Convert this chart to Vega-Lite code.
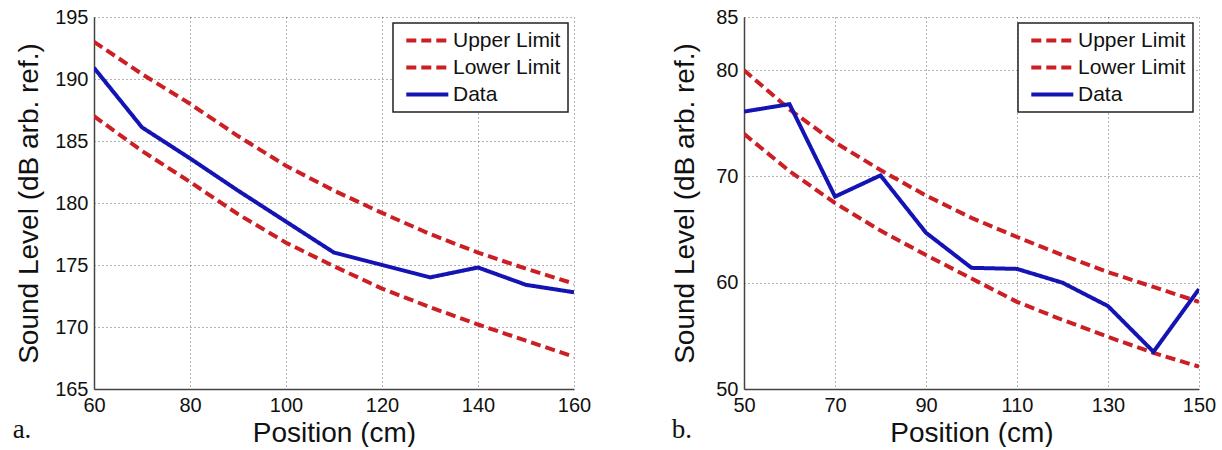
{
  "$schema": "https://vega.github.io/schema/vega-lite/v6.json",
  "background": "white",
  "padding": {"left": 12, "top": 7, "right": 5, "bottom": 0},
  "spacing": 80,
  "datasets": {
    "left": [
      {"series": "Upper Limit", "pos": 60, "level": 193.0},
      {"series": "Upper Limit", "pos": 70, "level": 190.4},
      {"series": "Upper Limit", "pos": 80, "level": 188.0},
      {"series": "Upper Limit", "pos": 90, "level": 185.4},
      {"series": "Upper Limit", "pos": 100, "level": 183.0},
      {"series": "Upper Limit", "pos": 110, "level": 181.0},
      {"series": "Upper Limit", "pos": 120, "level": 179.2},
      {"series": "Upper Limit", "pos": 130, "level": 177.5},
      {"series": "Upper Limit", "pos": 140, "level": 176.0},
      {"series": "Upper Limit", "pos": 150, "level": 174.7},
      {"series": "Upper Limit", "pos": 160, "level": 173.5},
      {"series": "Lower Limit", "pos": 60, "level": 187.0},
      {"series": "Lower Limit", "pos": 70, "level": 184.2},
      {"series": "Lower Limit", "pos": 80, "level": 181.7},
      {"series": "Lower Limit", "pos": 90, "level": 179.1},
      {"series": "Lower Limit", "pos": 100, "level": 176.8},
      {"series": "Lower Limit", "pos": 110, "level": 174.9},
      {"series": "Lower Limit", "pos": 120, "level": 173.1},
      {"series": "Lower Limit", "pos": 130, "level": 171.6},
      {"series": "Lower Limit", "pos": 140, "level": 170.2},
      {"series": "Lower Limit", "pos": 150, "level": 168.9},
      {"series": "Lower Limit", "pos": 160, "level": 167.6},
      {"series": "Data", "pos": 60, "level": 190.9},
      {"series": "Data", "pos": 70, "level": 186.1},
      {"series": "Data", "pos": 80, "level": 183.6},
      {"series": "Data", "pos": 90, "level": 181.0},
      {"series": "Data", "pos": 100, "level": 178.5},
      {"series": "Data", "pos": 110, "level": 176.0},
      {"series": "Data", "pos": 120, "level": 175.0},
      {"series": "Data", "pos": 130, "level": 174.0},
      {"series": "Data", "pos": 140, "level": 174.8},
      {"series": "Data", "pos": 150, "level": 173.4},
      {"series": "Data", "pos": 160, "level": 172.8}
    ],
    "right": [
      {"series": "Upper Limit", "pos": 50, "level": 80.0},
      {"series": "Upper Limit", "pos": 60, "level": 76.3},
      {"series": "Upper Limit", "pos": 70, "level": 73.2},
      {"series": "Upper Limit", "pos": 80, "level": 70.6},
      {"series": "Upper Limit", "pos": 90, "level": 68.2},
      {"series": "Upper Limit", "pos": 100, "level": 66.1},
      {"series": "Upper Limit", "pos": 110, "level": 64.3},
      {"series": "Upper Limit", "pos": 120, "level": 62.6},
      {"series": "Upper Limit", "pos": 130, "level": 61.0},
      {"series": "Upper Limit", "pos": 140, "level": 59.6},
      {"series": "Upper Limit", "pos": 150, "level": 58.2},
      {"series": "Lower Limit", "pos": 50, "level": 74.0},
      {"series": "Lower Limit", "pos": 60, "level": 70.5},
      {"series": "Lower Limit", "pos": 70, "level": 67.5},
      {"series": "Lower Limit", "pos": 80, "level": 64.9},
      {"series": "Lower Limit", "pos": 90, "level": 62.6},
      {"series": "Lower Limit", "pos": 100, "level": 60.4},
      {"series": "Lower Limit", "pos": 110, "level": 58.2},
      {"series": "Lower Limit", "pos": 120, "level": 56.5},
      {"series": "Lower Limit", "pos": 130, "level": 54.9},
      {"series": "Lower Limit", "pos": 140, "level": 53.4},
      {"series": "Lower Limit", "pos": 150, "level": 52.1},
      {"series": "Data", "pos": 50, "level": 76.1},
      {"series": "Data", "pos": 60, "level": 76.8},
      {"series": "Data", "pos": 70, "level": 68.1},
      {"series": "Data", "pos": 80, "level": 70.1},
      {"series": "Data", "pos": 90, "level": 64.7},
      {"series": "Data", "pos": 100, "level": 61.4},
      {"series": "Data", "pos": 110, "level": 61.3},
      {"series": "Data", "pos": 120, "level": 60.0},
      {"series": "Data", "pos": 130, "level": 57.8},
      {"series": "Data", "pos": 140, "level": 53.5},
      {"series": "Data", "pos": 150, "level": 59.4}
    ]
  },
  "config": {
    "font": "Liberation Sans",
    "view": {"stroke": null},
    "axis": {
      "labelFont": "Liberation Sans",
      "labelFontSize": 20,
      "labelColor": "#111",
      "labelFlush": false,
      "titleFont": "Liberation Sans",
      "titleFontSize": 28,
      "titleFontWeight": "normal",
      "titleColor": "#111",
      "domainColor": "#444",
      "domainWidth": 1.5,
      "ticks": false,
      "grid": true,
      "gridColor": "#333",
      "gridDash": [1, 3],
      "gridWidth": 1,
      "gridOpacity": 0.75
    },
    "axisX": {"labelPadding": 6, "titlePadding": 4},
    "axisY": {"labelPadding": 6, "titlePadding": 11},
    "legend": {
      "orient": "top-right",
      "offset": 6,
      "strokeColor": "#222",
      "strokeWidth": 1.5,
      "fillColor": "white",
      "padding": 7,
      "labelFont": "Liberation Sans",
      "labelFontSize": 21,
      "labelColor": "#111",
      "symbolType": "M-0.6,0H5.4",
      "symbolSize": 196,
      "symbolStrokeWidth": 4,
      "rowPadding": 5,
      "labelOffset": 32,
      "title": null
    },
    "title": {"font": "Liberation Serif", "fontSize": 27, "fontWeight": "normal", "color": "#111"}
  },
  "hconcat": [
    {
      "width": 480,
      "height": 372,
      "data": {"name": "left"},
      "title": {"text": "a.", "orient": "bottom", "anchor": "start", "dx": -3, "offset": -30},
      "mark": {"type": "line", "strokeWidth": 4, "clip": true},
      "encoding": {
        "x": {"field": "pos", "type": "quantitative", "title": "Position (cm)",
              "scale": {"domain": [60, 160], "nice": false},
              "axis": {"values": [60, 80, 100, 120, 140, 160]}},
        "y": {"field": "level", "type": "quantitative", "title": "Sound Level (dB arb. ref.)",
              "scale": {"domain": [165, 195], "nice": false, "zero": false},
              "axis": {"values": [165, 170, 175, 180, 185, 190, 195]}},
        "color": {"field": "series", "type": "nominal",
                  "scale": {"domain": ["Upper Limit", "Lower Limit", "Data"], "range": ["#cc1f24", "#cc1f24", "#1414b4"]},
                  "legend": {"title": null}},
        "strokeDash": {"field": "series", "type": "nominal",
                  "scale": {"domain": ["Upper Limit", "Lower Limit", "Data"], "range": [[10, 5], [10, 5], [1, 0]]},
                  "legend": {"title": null}},
        "detail": {"field": "series"}
      }
    },
    {
      "width": 455,
      "height": 372,
      "data": {"name": "right"},
      "title": {"text": "b.", "orient": "bottom", "anchor": "start", "dx": 0, "offset": -30},
      "mark": {"type": "line", "strokeWidth": 4, "clip": true},
      "encoding": {
        "x": {"field": "pos", "type": "quantitative", "title": "Position (cm)",
              "scale": {"domain": [50, 150], "nice": false},
              "axis": {"values": [50, 70, 90, 110, 130, 150]}},
        "y": {"field": "level", "type": "quantitative", "title": "Sound Level (dB arb. ref.)",
              "scale": {"domain": [50, 85], "nice": false, "zero": false},
              "axis": {"values": [50, 60, 70, 80, 85], "titlePadding": 16}},
        "color": {"field": "series", "type": "nominal",
                  "scale": {"domain": ["Upper Limit", "Lower Limit", "Data"], "range": ["#cc1f24", "#cc1f24", "#1414b4"]},
                  "legend": {"title": null}},
        "strokeDash": {"field": "series", "type": "nominal",
                  "scale": {"domain": ["Upper Limit", "Lower Limit", "Data"], "range": [[10, 5], [10, 5], [1, 0]]},
                  "legend": {"title": null}},
        "detail": {"field": "series"}
      }
    }
  ],
  "resolve": {"scale": {"color": "independent", "strokeDash": "independent", "x": "independent", "y": "independent"}, "legend": {"color": "independent", "strokeDash": "independent"}}
}
